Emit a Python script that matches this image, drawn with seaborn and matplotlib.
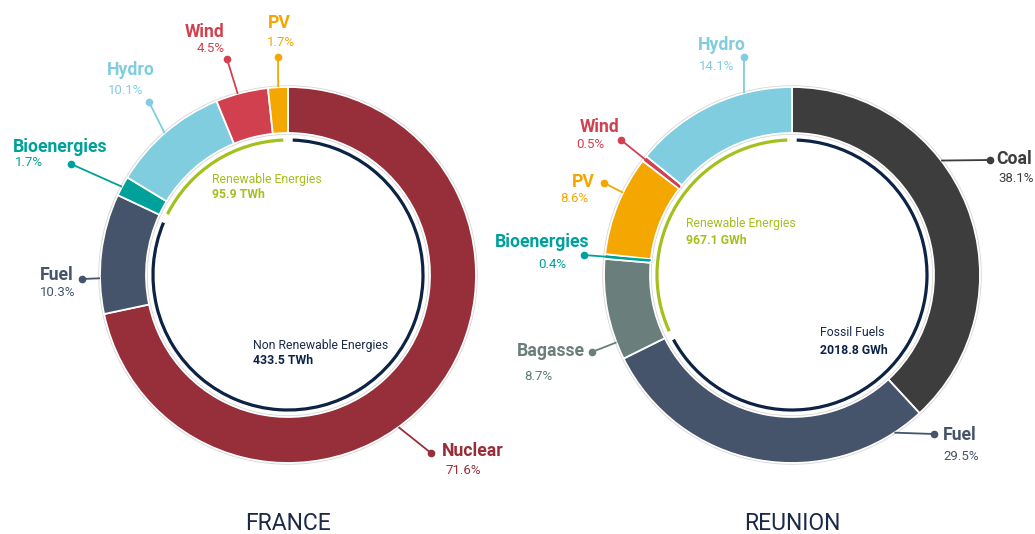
import numpy as np
import pandas as pd
import seaborn as sns
import matplotlib.pyplot as plt
from matplotlib.patches import Arc, Circle

# --- data -------------------------------------------------------------
france_sources = ["Nuclear", "Fuel", "Bioenergies", "Hydro", "Wind", "PV"]
france_share = [71.6, 10.3, 1.7, 10.1, 4.5, 1.7]
france_renew_twh = 95.9
france_nonrenew_twh = 433.5

reunion_sources = ["Coal", "Fuel", "Bagasse", "Bioenergies", "PV", "Wind", "Hydro"]
reunion_share = [38.1, 29.5, 8.7, 0.4, 8.6, 0.5, 14.1]
reunion_renew_gwh = 967.1
reunion_fossil_gwh = 2018.8

# --- styles -----------------------------------------------------------
colors = {
    "Nuclear": "#962f39",
    "Fuel": "#45546b",
    "Bioenergies": "#00a19a",
    "Hydro": "#80cde0",
    "Wind": "#d0404e",
    "PV": "#f4a700",
    "Coal": "#3d3d3d",
    "Bagasse": "#6a7f7c",
}
pct_colors = dict(colors, Bagasse="#5f7d6c")
GREEN = "#a3c01c"
NAVY = "#0c2346"
TITLE = "#1b2a48"

W, H = 1035, 534
R_OUT, WIDTH, R_ARC = 188, 46, 135

# label layout (pixel coords, y down): leader angle, leader radius, dot, name pos/ha, pct pos/ha
france_layout = {
    "Nuclear": (-54, 188, (431, 453), (442, 451, "left"), (445, 470, "left")),
    "Fuel": (181, 188, (82, 279), (74, 275, "right"), (75, 292, "right")),
    "Bioenergies": (152, 188, (71, 164), (13, 147, "left"), (15, 163, "left")),
    "Hydro": (131, 188, (149, 102), (131, 70, "center"), (126, 91, "center")),
    "Wind": (105.5, 188, (227, 59), (205, 32, "center"), (211, 48, "center")),
    "PV": (93, 188, (278, 57), (279, 23, "center"), (281, 42, "center")),
}
reunion_layout = {
    "Coal": (37.5, 188, (990, 160), (996, 159, "left"), (998, 178, "left")),
    "Fuel": (-57, 188, (934, 434), (943, 435, "left"), (943, 456, "left")),
    "Bagasse": (201, 188, (592, 352), (585, 351, "right"), (538, 376, "center")),
    "Bioenergies": (174, 142, (584, 255), (589, 242, "right"), (552, 264, "center")),
    "PV": (154, 188, (604, 183), (583, 182, "center"), (574, 199, "center")),
    "Wind": (142, 142, (621, 140), (600, 127, "center"), (590, 145, "center")),
    "Hydro": (104.8, 188, (744, 57), (722, 45, "center"), (717, 66, "center")),
}

sns.set_theme(style="white")
plt.rcParams['font.family'] = ['Roboto', 'DejaVu Sans']

fig = plt.figure(figsize=(10.35, 5.34), dpi=100)
ax = fig.add_axes([0, 0, 1, 1])


def py(y):
    return H - y


def draw_donut(cx, cy, sources, shares, renew_frac, layout):
    c = (cx, py(cy))
    ax.add_patch(Circle(c, R_OUT + 0.8, fill=False, ec="#d6d6d6", lw=1.3, zorder=1))
    ax.add_patch(Circle(c, R_OUT - WIDTH - 0.8, fill=False, ec="#d6d6d6", lw=1.3, zorder=1))
    ax.pie(shares, colors=[colors[s] for s in sources], startangle=90,
           counterclock=False, radius=R_OUT, center=c,
           wedgeprops=dict(width=WIDTH, edgecolor="white", linewidth=1.3, zorder=2))
    # inner arcs: renewable part (green) and the rest (navy)
    span = renew_frac * 360
    ax.add_patch(Arc(c, 2 * R_ARC, 2 * R_ARC, theta1=92, theta2=90 + span - 2,
                     color=GREEN, lw=2.3, zorder=3))
    ax.add_patch(Arc(c, 2 * R_ARC, 2 * R_ARC, theta1=90 + span + 2, theta2=448,
                     color=NAVY, lw=2.3, zorder=3))
    for s, v in zip(sources, shares):
        ang, rad, dot, name, pct = layout[s]
        a = np.deg2rad(ang)
        x0, y0 = cx + rad * np.cos(a), py(cy) + rad * np.sin(a)
        col = colors[s]
        ax.plot([x0, dot[0]], [y0, py(dot[1])], color=col, lw=1.3, zorder=4,
                solid_capstyle="butt")
        ax.plot(dot[0], py(dot[1]), "o", ms=4.5, color=col, zorder=5)
        ax.text(name[0], py(name[1]), s, color=col, fontsize=12.7, fontweight="bold",
                ha=name[2], va="center")
        ax.text(pct[0], py(pct[1]), f"{v}%", color=pct_colors[s], fontsize=9.5,
                ha=pct[2], va="center")


draw_donut(288, 275, france_sources, france_share,
           france_renew_twh / (france_renew_twh + france_nonrenew_twh), france_layout)
draw_donut(792, 275, reunion_sources, reunion_share,
           reunion_renew_gwh / (reunion_renew_gwh + reunion_fossil_gwh), reunion_layout)

# centre captions
ax.text(212, py(180), "Renewable Energies", color=GREEN, fontsize=8.8, va="center")
ax.text(212, py(194), f"{france_renew_twh} TWh", color=GREEN, fontsize=8.8,
        fontweight="bold", va="center")
ax.text(253, py(346), "Non Renewable Energies", color=TITLE, fontsize=8.8, va="center")
ax.text(253, py(360), f"{france_nonrenew_twh} TWh", color=NAVY, fontsize=8.8,
        fontweight="bold", va="center")
ax.text(686, py(223), "Renewable Energies", color=GREEN, fontsize=8.8, va="center")
ax.text(686, py(240), f"{reunion_renew_gwh} GWh", color=GREEN, fontsize=8.8,
        fontweight="bold", va="center")
ax.text(820, py(332), "Fossil Fuels", color=TITLE, fontsize=8.8, va="center")
ax.text(820, py(351), f"{reunion_fossil_gwh} GWh", color=NAVY, fontsize=8.8,
        fontweight="bold", va="center")

ax.text(288, py(523), "FRANCE", color=TITLE, fontsize=16.5, ha="center", va="center")
ax.text(792, py(523), "REUNION", color=TITLE, fontsize=16.5, ha="center", va="center")

ax.set_xlim(0, W)
ax.set_ylim(0, H)
ax.set_aspect("equal")
ax.axis("off")
fig.savefig("out.png", dpi=100, facecolor="white")
